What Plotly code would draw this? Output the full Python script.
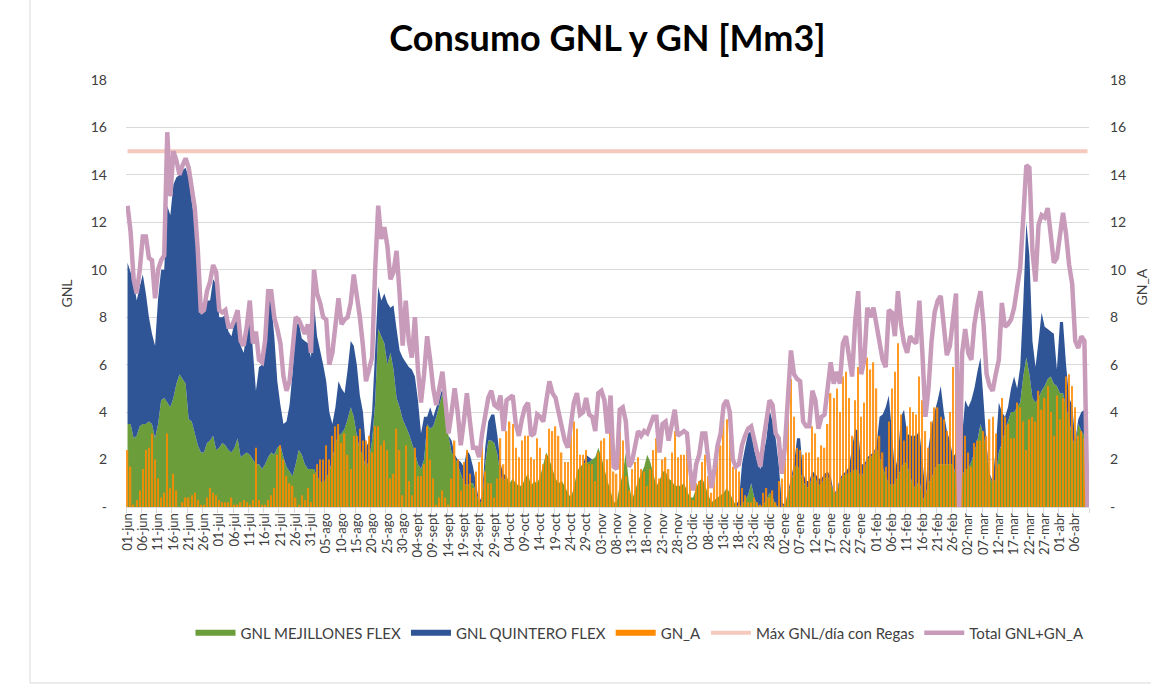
import plotly.graph_objects as go

# Daily values, 01-jun .. 10-abr (315 days)
MEJILLONES = [
    3.5, 3.5, 2.9, 3.0, 3.4, 3.5, 3.5, 3.6, 3.5, 2.9,
    3.5, 4.5, 4.6, 4.4, 4.2, 4.6, 5.2, 5.6, 5.4, 5.2,
    3.7, 3.6, 3.1, 2.6, 2.3, 2.3, 2.7, 2.8, 3.0, 2.4,
    2.5, 2.7, 2.6, 2.4, 2.3, 2.5, 2.9, 2.1, 2.2, 2.3,
    2.2, 2.0, 1.8, 1.8, 1.6, 1.8, 2.1, 2.3, 2.2, 2.5,
    2.6, 2.1, 1.7, 1.5, 1.3, 1.8, 2.4, 2.2, 1.8, 1.6,
    1.6, 1.6, 1.3, 1.1, 1.0, 1.2, 1.5, 2.0, 2.7, 3.0,
    3.1, 3.3, 3.7, 4.2, 3.8, 3.0, 2.4, 2.2, 1.6, 2.0,
    2.8, 4.4, 7.5, 7.2, 6.9, 6.0, 6.5, 5.8, 4.6, 4.2,
    3.7, 3.4, 3.1, 2.7, 2.3, 1.8, 1.6, 2.0, 3.5, 3.3,
    3.4, 3.8, 4.3, 4.8, 3.8, 3.0, 2.3, 2.1, 1.8, 1.4,
    1.0, 0.9, 1.0, 1.0, 0.6, 0.2, 0.2, 1.8, 2.8, 2.8,
    2.7, 2.2, 1.3, 1.1, 1.3, 1.0, 1.2, 1.0, 0.9, 0.9,
    1.2, 1.4, 0.9, 1.1, 1.0, 1.3, 1.8, 2.3, 2.0, 1.6,
    1.2, 1.0, 1.1, 0.9, 0.6, 0.4, 0.8, 1.5, 1.7, 1.8,
    1.9, 1.9, 2.0, 2.1, 2.5, 2.1, 1.6, 1.1, 0.7, 0.2,
    0.2, 0.9, 1.4, 2.3, 1.0, 0.3, 0.7, 1.1, 1.4, 1.7,
    2.2, 1.9, 1.4, 0.9, 1.1, 1.5, 1.5, 1.2, 1.1, 0.9,
    0.9, 0.9, 1.0, 0.7, 0.4, 0.4, 0.8, 1.1, 1.2, 0.9,
    0.5, 0.2, 0.3, 0.4, 0.5, 0.6, 0.8, 0.6, 0.3, 0.1,
    0.0, 0.1, 0.3, 0.5, 1.0, 0.4, 0.1, 0.0, 0.1, 0.3,
    0.6, 0.4, 0.1, 0.0, 0.0, 0.1, 0.5, 1.0, 1.6, 1.8,
    1.5, 1.1, 0.8, 0.9, 1.3, 1.2, 0.9, 1.0, 1.2, 1.3,
    1.0, 0.6, 0.6, 1.1, 1.3, 1.4, 1.4, 1.5, 1.6, 1.5,
    1.2, 1.6, 2.0, 2.1, 2.2, 2.5, 2.1, 1.7, 1.3, 1.0,
    0.9, 1.0, 1.3, 1.6, 1.9, 1.8, 1.3, 0.9, 0.8, 1.2,
    0.3, 0.5, 1.0, 1.2, 1.6, 1.8, 1.8, 1.8, 1.8, 1.8,
    1.8, 1.3, 0.0, 1.3, 1.6, 1.6, 1.9, 2.3, 2.8, 3.5,
    3.0, 2.3, 1.3, 1.0, 1.2, 2.3, 2.7, 3.2, 3.6, 4.0,
    4.0, 4.2, 4.4, 5.5, 6.3, 5.6, 4.6, 4.4, 4.6, 4.9,
    5.1, 5.4, 5.5, 5.2, 5.1, 4.8, 4.8, 4.2, 3.7, 2.9,
    2.6, 3.5, 3.2, 3.0, 0.0,
]

QUINTERO = [
    6.8, 6.4, 6.6, 5.7, 5.9, 6.3, 5.5, 4.4, 3.8, 3.9,
    5.3, 5.5, 5.4, 8.3, 8.1, 9.0, 8.7, 8.4, 8.8, 9.1,
    10.2, 9.3, 8.9, 7.9, 5.8, 5.9, 6.0, 5.9, 6.6, 7.0,
    5.5, 5.3, 5.5, 5.0, 4.9, 5.3, 5.3, 4.7, 4.3, 5.1,
    6.4, 4.6, 3.1, 4.1, 4.4, 5.1, 6.7, 6.3, 5.0, 2.8,
    1.7, 1.4, 1.9, 2.8, 4.4, 5.8, 5.4, 4.9, 5.2, 5.3,
    4.7, 7.0, 5.9, 5.5, 5.0, 4.1, 2.5, 1.5, 1.5, 2.3,
    1.9, 1.5, 2.1, 2.8, 3.0, 3.0, 2.3, 1.8, 0.9, 0.8,
    1.2, 2.2, 1.8, 1.5, 2.1, 2.6, 1.9, 2.7, 2.9, 2.4,
    2.6, 2.7, 2.8, 3.1, 3.2, 2.7, 1.5, 1.8, 0.3, 0.9,
    0.4, 0.4, 0.3, 0.2, 0.2, 0.0, 0.5, 0.1, 0.2, 0.5,
    0.7, 1.5, 1.2, 0.7, 0.4, 0.0, 0.3, 0.7, 0.8, 1.1,
    1.2, 0.8, 0.5, 0.3, 0.0, 0.0, 0.0, 0.0, 0.0, 0.0,
    0.0, 0.0, 0.0, 0.0, 0.0, 0.0, 0.0, 0.0, 0.0, 0.0,
    0.0, 0.0, 0.0, 0.0, 0.0, 0.0, 0.0, 0.0, 0.0, 0.0,
    0.3, 0.2, 0.0, 0.0, 0.0, 0.0, 0.0, 0.0, 0.0, 0.0,
    0.0, 0.0, 0.0, 0.0, 0.0, 0.0, 0.0, 0.0, 0.0, 0.0,
    0.0, 0.0, 0.0, 0.0, 0.0, 0.0, 0.0, 0.0, 0.0, 0.0,
    0.0, 0.0, 0.0, 0.0, 0.0, 0.0, 0.0, 0.0, 0.0, 0.0,
    0.0, 0.0, 0.0, 0.0, 0.0, 0.0, 0.0, 0.0, 0.0, 0.0,
    0.3, 1.7, 2.2, 2.6, 2.2, 2.0, 1.8, 1.6, 2.1, 2.6,
    3.5, 3.2, 2.8, 1.8, 0.2, 0.0, 0.1, 0.2, 0.2, 1.1,
    1.4, 0.3, 0.3, 0.2, 0.2, 0.2, 0.3, 0.2, 0.2, 0.2,
    0.3, 0.0, 0.1, 0.1, 0.1, 0.1, 0.3, 1.0, 1.7, 1.7,
    0.6, 0.2, 0.1, 0.1, 0.1, 0.1, 1.7, 2.2, 2.9, 3.7,
    2.3, 0.5, 0.9, 2.2, 2.2, 1.3, 1.7, 2.1, 2.2, 2.0,
    1.7, 0.1, 1.5, 2.2, 2.4, 2.7, 3.3, 2.2, 1.4, 1.0,
    0.3, 1.0, 0.0, 1.7, 2.9, 2.6, 2.6, 2.7, 2.9, 2.8,
    1.5, 0.3, 0.1, 0.1, 1.3, 2.1, 1.3, 0.6, 0.6, 1.0,
    1.5, 0.8, 1.5, 3.1, 5.7, 5.0, 2.4, 1.5, 2.4, 3.3,
    2.5, 2.1, 1.9, 2.1, 0.7, 3.0, 3.0, 1.8, 0.9, 1.4,
    0.2, 0.2, 0.8, 1.1, 0.0,
]

GN_A = [
    2.4, 1.7, 0.1, 0.3, 0.7, 1.6, 2.4, 2.5, 3.1, 2.0,
    1.2, 0.4, 0.6, 3.1, 0.8, 1.4, 0.7, 0.0, 0.2, 0.4,
    0.4, 0.5, 0.6, 0.3, 0.1, 0.1, 0.4, 0.8, 0.6, 0.5,
    0.3, 0.2, 0.2, 0.2, 0.4, 0.1, 0.1, 0.2, 0.3, 0.2,
    0.1, 0.3, 2.5, 0.3, 0.1, 0.1, 0.3, 0.5, 0.8, 2.2,
    2.6, 2.0, 1.3, 1.0, 0.9, 0.4, 0.1, 0.5, 0.3, 0.8,
    0.2, 1.4, 1.8, 2.0, 2.0, 2.6, 2.0, 3.0, 3.4, 3.5,
    2.7, 3.1, 2.2, 1.6, 3.0, 3.0, 3.3, 2.8, 2.8, 3.0,
    2.3, 3.4, 3.4, 2.6, 2.8, 2.4, 1.2, 1.4, 3.3, 2.4,
    0.5, 2.6, 1.1, 0.5, 2.5, 1.3, 1.3, 1.8, 3.4, 2.0,
    1.2, 0.1, 0.4, 0.7, 0.4, 0.1, 1.2, 2.8, 2.0, 0.7,
    1.9, 2.4, 1.4, 0.8, 1.5, 1.9, 2.6, 1.5, 1.0, 1.0,
    0.4, 1.2, 2.9, 1.8, 3.2, 3.6, 3.5, 2.5, 2.1, 2.8,
    3.0, 3.0, 2.1, 2.0, 2.9, 2.5, 1.8, 2.2, 3.3, 3.2,
    3.4, 3.0, 2.3, 1.9, 1.9, 3.1, 3.6, 3.3, 2.2, 2.2,
    2.4, 1.8, 1.8, 1.1, 2.3, 2.8, 2.9, 2.0, 4.0, 1.5,
    1.4, 3.2, 2.8, 1.3, 0.7, 1.6, 1.9, 2.1, 1.6, 1.5,
    0.9, 1.6, 2.4, 2.9, 1.2, 2.0, 2.1, 1.6, 2.3, 3.2,
    2.1, 2.2, 2.2, 2.4, 1.2, 0.3, 1.0, 1.1, 1.9, 2.2,
    1.3, 0.6, 1.3, 2.2, 2.6, 3.7, 3.7, 3.4, 1.7, 1.6,
    1.5, 0.8, 0.5, 0.2, 0.2, 0.4, 0.2, 0.1, 0.6, 0.8,
    0.4, 0.7, 0.2, 1.1, 1.2, 2.4, 3.7, 5.4, 3.8, 2.5,
    2.4, 2.2, 2.3, 2.3, 3.4, 3.1, 2.1, 2.6, 2.5, 3.5,
    4.8, 4.6, 5.0, 4.0, 5.5, 5.7, 4.6, 3.0, 4.5, 5.9,
    3.8, 4.4, 6.3, 5.8, 6.1, 5.0, 3.0, 2.3, 1.7, 3.6,
    5.0, 5.7, 6.9, 3.9, 2.8, 3.4, 4.2, 4.0, 3.9, 5.5,
    4.5, 3.2, 2.5, 3.6, 4.2, 4.2, 3.8, 3.7, 3.2, 4.0,
    5.9, 6.7, 0.0, 3.5, 3.0, 2.3, 1.7, 2.7, 2.8, 2.8,
    3.2, 3.0, 3.7, 3.8, 3.1, 1.8, 4.6, 3.8, 3.5, 2.9,
    2.9, 4.4, 4.2, 3.6, 2.4, 3.7, 3.8, 3.6, 4.9, 4.1,
    4.6, 5.1, 4.0, 3.0, 4.7, 3.7, 4.6, 5.5, 5.6, 5.1,
    4.2, 3.0, 3.2, 2.9, 0.0,
]

MAX_REGAS = 15

TICK_LABELS = [
    "01-jun", "06-jun", "11-jun", "16-jun", "21-jun", "26-jun",
    "01-jul", "06-jul", "11-jul", "16-jul", "21-jul", "26-jul", "31-jul",
    "05-ago", "10-ago", "15-ago", "20-ago", "25-ago", "30-ago",
    "04-sept", "09-sept", "14-sept", "19-sept", "24-sept", "29-sept",
    "04-oct", "09-oct", "14-oct", "19-oct", "24-oct", "29-oct",
    "03-nov", "08-nov", "13-nov", "18-nov", "23-nov", "28-nov",
    "03-dic", "08-dic", "13-dic", "18-dic", "23-dic", "28-dic",
    "02-ene", "07-ene", "12-ene", "17-ene", "22-ene", "27-ene",
    "01-feb", "06-feb", "11-feb", "16-feb", "21-feb", "26-feb",
    "02-mar", "07-mar", "12-mar", "17-mar", "22-mar", "27-mar",
    "01-abr", "06-abr",
]
TICK_STEP = 5

n = min(len(MEJILLONES), len(QUINTERO), len(GN_A))
x = list(range(n))
mej = MEJILLONES[:n]
qui = QUINTERO[:n]
gna = GN_A[:n]
total = [round(a + b + c, 2) for a, b, c in zip(mej, qui, gna)]

FONT = "Lato, 'Liberation Sans', Arial, sans-serif"
TXT = "#404040"
ORANGE = "#ff8a00"

# the page margin is removed in post_script, so the figure fills the window
OFF = 0
W, H = 1151, 687
L, R, T, B = 126, 62, 80, 180
PW = W - L - R
PH = H - T - B


def px_x(p):
    return (p - OFF - L) / PW


def px_y(p):
    return (H - B - (p - OFF)) / PH


fig = go.Figure()
fig.add_trace(go.Scatter(
    x=x, y=mej, name="GNL MEJILLONES FLEX", stackgroup="gnl", mode="none",
    fillcolor="#6b9e3a", line=dict(width=0), hoverinfo="skip"))
fig.add_trace(go.Scatter(
    x=x, y=qui, name="GNL QUINTERO FLEX", stackgroup="gnl", mode="none",
    fillcolor="#2f5597", line=dict(width=0), hoverinfo="skip"))
fig.add_trace(go.Bar(
    x=x, y=gna, name="GN_A", yaxis="y2", width=0.45, opacity=0.85,
    marker=dict(color=ORANGE, line=dict(width=0)), hoverinfo="skip",
    showlegend=False, legendgroup="gna"))
# legend entry for GN_A drawn as a wide swatch like the other filled series
fig.add_trace(go.Scatter(
    x=[None], y=[None], name="GN_A", yaxis="y2", mode="none", fill="toself",
    fillcolor=ORANGE, legendgroup="gna", hoverinfo="skip"))
fig.add_trace(go.Scatter(
    x=x, y=[MAX_REGAS] * n, name="Máx GNL/día con Regas", yaxis="y2",
    mode="lines", line=dict(color="#f7c9bc", width=4), hoverinfo="skip"))
fig.add_trace(go.Scatter(
    x=x, y=total, name="Total GNL+GN_A", yaxis="y2",
    mode="lines", line=dict(color="#c99bbb", width=4.5), hoverinfo="skip"))

tickvals_x = [i * TICK_STEP for i in range(len(TICK_LABELS))]
minor_x = [i * TICK_STEP - 0.5 for i in range(len(TICK_LABELS) + 1)] + [n - 0.5]
y_vals = list(range(0, 19, 2))
y_text = ["-" if v == 0 else str(v) for v in y_vals]

fig.update_layout(
    width=W, height=H,
    margin=dict(l=L, r=R, t=T, b=B),
    paper_bgcolor="white", plot_bgcolor="white",
    font=dict(family=FONT, color=TXT, size=14),
    title=dict(text="<b>Consumo GNL y GN [Mm3]</b>", x=0.5, xref="paper",
               y=1 - (38 - OFF) / H, yref="container", xanchor="center",
               yanchor="middle",
               font=dict(family=FONT, size=36, color="#000000")),
    barmode="overlay",
    showlegend=True,
    legend=dict(orientation="h", x=px_x(640), y=px_y(633), xanchor="center",
                yanchor="middle", traceorder="normal",
                font=dict(family=FONT, size=15, color=TXT),
                itemwidth=40, bgcolor="rgba(0,0,0,0)"),
    xaxis=dict(
        range=[-0.5, n - 0.5], showgrid=False, zeroline=False,
        tickmode="array", tickvals=tickvals_x, ticktext=TICK_LABELS,
        tickangle=-90, ticks="", tickfont=dict(family=FONT, size=13, color=TXT),
        showline=True, linecolor="#d9d9d9", linewidth=1,
        minor=dict(tickmode="array", tickvals=minor_x, ticks="outside",
                   ticklen=5, tickcolor="#d9d9d9", tickwidth=1, showgrid=False),
    ),
    yaxis=dict(
        range=[0, 18], tickmode="array", tickvals=y_vals, ticktext=y_text,
        showgrid=True, gridcolor="#d9d9d9", gridwidth=1, zeroline=False,
        ticks="", ticklabelstandoff=18,
        tickfont=dict(family=FONT, size=14, color=TXT),
        title=dict(text="GNL", standoff=14, font=dict(family=FONT, size=14, color=TXT)),
    ),
    yaxis2=dict(
        range=[0, 18], overlaying="y", side="right", tickmode="array",
        tickvals=y_vals, ticktext=y_text, showgrid=False, zeroline=False,
        ticks="", ticklabelstandoff=20,
        tickfont=dict(family=FONT, size=14, color=TXT),
    ),
    shapes=[
        dict(type="line", xref="paper", yref="paper", x0=px_x(30), x1=px_x(30),
             y0=px_y(683), y1=px_y(0), line=dict(color="#d9d9d9", width=1)),
        dict(type="line", xref="paper", yref="paper", x0=px_x(30), x1=px_x(1160),
             y0=px_y(683), y1=px_y(683), line=dict(color="#d9d9d9", width=1)),
    ],
    annotations=[
        dict(text="GN_A", textangle=-90, xref="paper", yref="paper",
             x=px_x(1151), y=px_y(287), xanchor="right", yanchor="middle",
             showarrow=False, font=dict(family=FONT, size=14, color=TXT)),
    ],
)

fig.write_html(
    "out.html",
    config={"displayModeBar": False},
    post_script="document.documentElement.style.overflow='hidden';"
                "document.body.style.overflow='hidden';"
                "document.body.style.margin='0';",
)
